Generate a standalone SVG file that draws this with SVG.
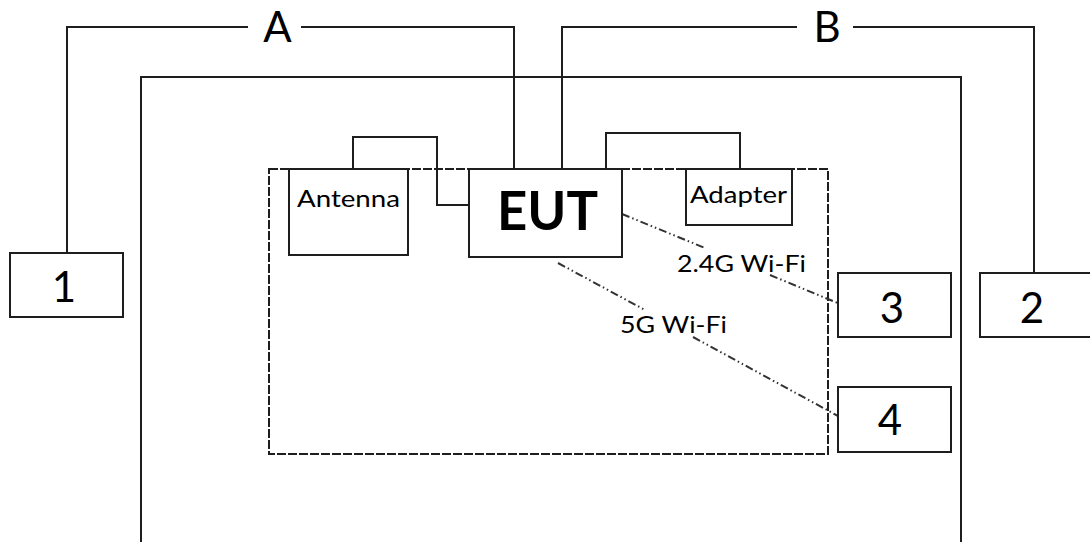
<svg xmlns="http://www.w3.org/2000/svg" width="1090" height="542" viewBox="0 0 1090 542">
<style>
.ln{fill:none;stroke:#1e1e1e;stroke-width:2}
.bx{fill:#fff;stroke:#1e1e1e;stroke-width:2}
.dash{fill:none;stroke:#1e1e1e;stroke-width:2;stroke-dasharray:9 2}
.dd{fill:none;stroke:#333;stroke-width:2;stroke-dasharray:8 3 1.5 3 1.5 3}
.t{font-family:Lato,"Liberation Sans",sans-serif;fill:#000}
.big{font-size:42px}
.sm{font-size:23px}
</style>
<rect width="1090" height="542" fill="#fff"/>
<g id="chamber">
<path class="ln" d="M141,545 V77 H961 V545"/>
</g>
<g id="enclosure">
<rect class="dash" x="269" y="169" width="559" height="285"/>
</g>
<g id="connectors">
<path class="ln" d="M67,253 V27 H248"/>
<path class="ln" d="M301,27 H514 V169"/>
<path class="ln" d="M562,169 V27 H797"/>
<path class="ln" d="M853,27 H1034 V273"/>
<path class="ln" d="M353,169 V137 H437 V205 H469"/>
<path class="ln" d="M606,169 V133 H740 V169"/>
<path class="dd" d="M622,214 L705,248"/>
<path class="dd" d="M770,275 L840,304"/>
<path class="dd" d="M558,263 L645,310"/>
<path class="dd" d="M693,337 L838,416"/>
<text class="t big" x="277.5" y="42" text-anchor="middle">A</text>
<text class="t big" x="827" y="42" text-anchor="middle">B</text>
<text class="t sm" x="677" y="272" textLength="129" lengthAdjust="spacingAndGlyphs">2.4G Wi-Fi</text>
<text class="t sm" x="620" y="333" textLength="107" lengthAdjust="spacingAndGlyphs">5G Wi-Fi</text>
</g>
<g id="antenna">
<rect class="bx" x="289" y="169" width="119" height="86"/>
<text class="t sm" x="297" y="207" textLength="103" lengthAdjust="spacingAndGlyphs">Antenna</text>
</g>
<g id="eut">
<rect class="bx" x="469" y="169" width="153" height="88"/>
<text class="t" x="497" y="230" font-size="53" font-weight="bold" textLength="101" lengthAdjust="spacingAndGlyphs">EUT</text>
</g>
<g id="adapter">
<rect class="bx" x="686" y="169" width="106" height="56"/>
<text class="t sm" x="690" y="203" textLength="97" lengthAdjust="spacingAndGlyphs">Adapter</text>
</g>
<g id="node1">
<rect class="bx" x="10" y="253" width="113" height="64"/>
<text class="t big" x="64" y="302" text-anchor="middle">1</text>
</g>
<g id="node2">
<rect class="bx" x="980" y="273" width="112" height="64"/>
<text class="t big" x="1032" y="323" text-anchor="middle">2</text>
</g>
<g id="node3">
<rect class="bx" x="838" y="273" width="113" height="64"/>
<text class="t big" x="892" y="323" text-anchor="middle">3</text>
</g>
<g id="node4">
<rect class="bx" x="838" y="387" width="113" height="65"/>
<text class="t big" x="890" y="435" text-anchor="middle">4</text>
</g>
</svg>
